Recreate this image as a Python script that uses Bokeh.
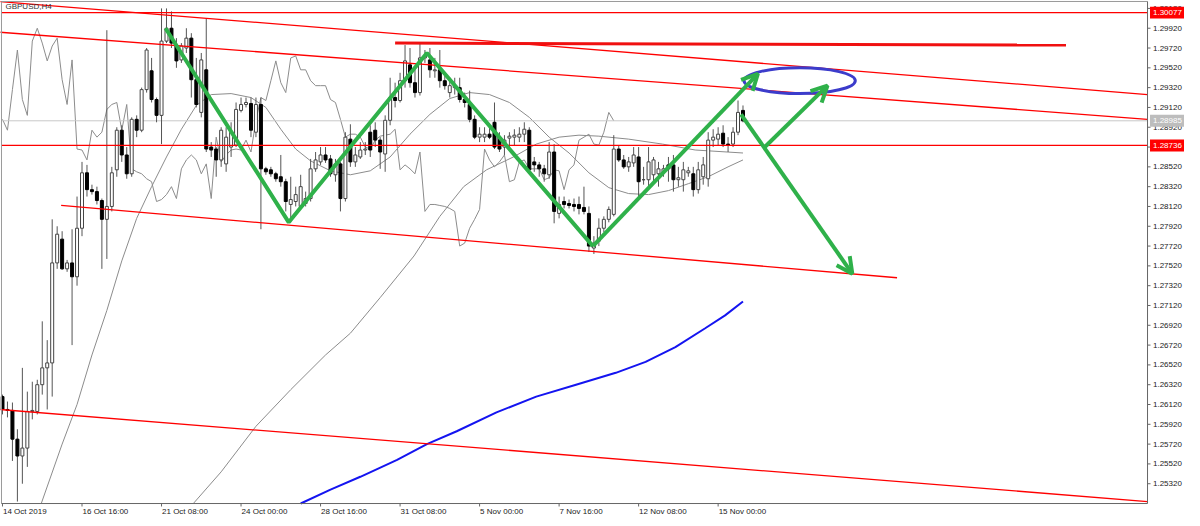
import numpy as np
from bokeh.plotting import figure
from bokeh.models import Range1d, Arrow, OpenHead
from bokeh.embed import file_html
from bokeh.resources import INLINE
from bokeh.core.properties import value

# ---------------- data (GBPUSD H4) ----------------
opens = [1.2620, 1.2607, 1.2606, 1.2577, 1.2560, 1.2568, 1.2605, 1.2605, 1.2632, 1.2649,
         1.2654, 1.2755, 1.2779, 1.2749, 1.2755, 1.2741, 1.2790, 1.2846, 1.2829, 1.2827,
         1.2818, 1.2799, 1.2812, 1.2849, 1.2889, 1.2864, 1.2845, 1.2900, 1.2889, 1.2930,
         1.2949, 1.2920, 1.2904, 1.2979, 1.2992, 1.2975, 1.2960, 1.2972, 1.2982, 1.2940,
         1.2907, 1.2950, 1.2872, 1.2870, 1.2859, 1.2855, 1.2872, 1.2874, 1.2909, 1.2915,
         1.2916, 1.2887, 1.2915, 1.2850, 1.2849, 1.2845, 1.2842, 1.2837, 1.2814, 1.2817,
         1.2812, 1.2815, 1.2820, 1.2850, 1.2857, 1.2864, 1.2860, 1.2844, 1.2855, 1.2820,
         1.2880, 1.2857, 1.2862, 1.2869, 1.2887, 1.2889, 1.2879, 1.2865, 1.2899, 1.2922,
         1.2919, 1.2939, 1.2955, 1.2937, 1.2927, 1.2962, 1.2960, 1.2949, 1.2950, 1.2939,
         1.2927, 1.2932, 1.2932, 1.2920, 1.2915, 1.2900, 1.2882, 1.2882, 1.2885, 1.2897,
         1.2882, 1.2872, 1.2881, 1.2882, 1.2882, 1.2885, 1.2889, 1.2857, 1.2854, 1.2850,
         1.2844, 1.2867, 1.2805, 1.2817, 1.2815, 1.2814, 1.2814, 1.2811, 1.2805, 1.2770,
         1.2777, 1.2790, 1.2799, 1.2804, 1.2870, 1.2859, 1.2852, 1.2856, 1.2862, 1.2839,
         1.2839, 1.2844, 1.2845, 1.2847, 1.2854, 1.2854, 1.2839, 1.2839, 1.2846, 1.2845,
         1.2829, 1.2842, 1.2840, 1.2879, 1.2880, 1.2886, 1.2875, 1.2875, 1.2887, 1.2909]
highs = [1.2622, 1.2615, 1.2614, 1.2587, 1.2649, 1.2625, 1.2635, 1.2637, 1.2696, 1.2677,
         1.2799, 1.2792, 1.2787, 1.2758, 1.2789, 1.2822, 1.2857, 1.2854, 1.2834, 1.2832,
         1.2820, 1.2990, 1.2852, 1.2892, 1.2894, 1.2872, 1.2902, 1.2904, 1.2932, 1.2972,
         1.2962, 1.2922, 1.3012, 1.3012, 1.3009, 1.2982, 1.2977, 1.2992, 1.2987, 1.2962,
         1.2967, 1.3002, 1.2877, 1.2872, 1.2892, 1.2892, 1.2897, 1.2917, 1.2922, 1.2922,
         1.2922, 1.2922, 1.2922, 1.2852, 1.2852, 1.2847, 1.2864, 1.2840, 1.2842, 1.2832,
         1.2844, 1.2827, 1.2860, 1.2867, 1.2872, 1.2872, 1.2864, 1.2860, 1.2857, 1.2887,
         1.2895, 1.2872, 1.2877, 1.2877, 1.2894, 1.2897, 1.2882, 1.2904, 1.2942, 1.2937,
         1.2947, 1.2975, 1.2972, 1.2952, 1.2977, 1.2970, 1.2972, 1.2962, 1.2970, 1.2947,
         1.2942, 1.2942, 1.2942, 1.2927, 1.2929, 1.2904, 1.2892, 1.2892, 1.2892, 1.2917,
         1.2887, 1.2884, 1.2887, 1.2890, 1.2892, 1.2897, 1.2892, 1.2862, 1.2857, 1.2854,
         1.2877, 1.2875, 1.2822, 1.2822, 1.2819, 1.2820, 1.2822, 1.2832, 1.2812, 1.2782,
         1.2800, 1.2802, 1.2812, 1.2884, 1.2874, 1.2864, 1.2862, 1.2872, 1.2872, 1.2852,
         1.2872, 1.2862, 1.2857, 1.2854, 1.2862, 1.2864, 1.2852, 1.2857, 1.2852, 1.2852,
         1.2857, 1.2862, 1.2887, 1.2890, 1.2892, 1.2894, 1.2882, 1.2892, 1.2919, 1.2914]
lows = [1.2602, 1.2599, 1.2555, 1.2514, 1.2532, 1.2549, 1.2597, 1.2602, 1.2622, 1.2607,
        1.2620, 1.2749, 1.2748, 1.2746, 1.2672, 1.2732, 1.2782, 1.2822, 1.2824, 1.2814,
        1.2749, 1.2759, 1.2807, 1.2842, 1.2857, 1.2840, 1.2842, 1.2882, 1.2887, 1.2927,
        1.2917, 1.2897, 1.2875, 1.2977, 1.2972, 1.2952, 1.2957, 1.2967, 1.2922, 1.2912,
        1.2902, 1.2867, 1.2862, 1.2842, 1.2852, 1.2847, 1.2862, 1.2872, 1.2907, 1.2912,
        1.2882, 1.2882, 1.2789, 1.2844, 1.2842, 1.2837, 1.2832, 1.2807, 1.2796, 1.2812,
        1.2810, 1.2812, 1.2817, 1.2847, 1.2854, 1.2856, 1.2842, 1.2837, 1.2807, 1.2817,
        1.2852, 1.2852, 1.2860, 1.2864, 1.2862, 1.2872, 1.2850, 1.2847, 1.2894, 1.2912,
        1.2917, 1.2932, 1.2932, 1.2922, 1.2924, 1.2957, 1.2942, 1.2942, 1.2932, 1.2930,
        1.2922, 1.2925, 1.2917, 1.2912, 1.2897, 1.2880, 1.2877, 1.2877, 1.2880, 1.2870,
        1.2867, 1.2864, 1.2872, 1.2874, 1.2877, 1.2877, 1.2847, 1.2847, 1.2842, 1.2837,
        1.2840, 1.2795, 1.2800, 1.2810, 1.2810, 1.2807, 1.2804, 1.2804, 1.2766, 1.2764,
        1.2772, 1.2786, 1.2796, 1.2802, 1.2857, 1.2850, 1.2847, 1.2852, 1.2822, 1.2834,
        1.2832, 1.2837, 1.2832, 1.2842, 1.2837, 1.2827, 1.2832, 1.2827, 1.2842, 1.2822,
        1.2825, 1.2834, 1.2832, 1.2872, 1.2874, 1.2872, 1.2867, 1.2872, 1.2884, 1.2897]
closes = [1.2607, 1.2606, 1.2577, 1.2560, 1.2568, 1.2605, 1.2606, 1.2632, 1.2649, 1.2654,
          1.2755, 1.2784, 1.2749, 1.2755, 1.2741, 1.2790, 1.2846, 1.2829, 1.2827, 1.2818,
          1.2799, 1.2812, 1.2846, 1.2889, 1.2864, 1.2845, 1.2900, 1.2889, 1.2930, 1.2970,
          1.2920, 1.2904, 1.2979, 1.2992, 1.2977, 1.2959, 1.2974, 1.2982, 1.2940, 1.2915,
          1.2960, 1.2870, 1.2869, 1.2859, 1.2889, 1.2882, 1.2887, 1.2910, 1.2915, 1.2917,
          1.2889, 1.2915, 1.2850, 1.2847, 1.2845, 1.2840, 1.2837, 1.2817, 1.2819, 1.2824,
          1.2832, 1.2820, 1.2850, 1.2859, 1.2864, 1.2859, 1.2845, 1.2855, 1.2820, 1.2882,
          1.2857, 1.2864, 1.2869, 1.2870, 1.2869, 1.2879, 1.2867, 1.2899, 1.2922, 1.2919,
          1.2939, 1.2959, 1.2937, 1.2927, 1.2962, 1.2964, 1.2950, 1.2950, 1.2939, 1.2934,
          1.2934, 1.2934, 1.2920, 1.2917, 1.2900, 1.2882, 1.2885, 1.2885, 1.2882, 1.2872,
          1.2870, 1.2879, 1.2883, 1.2884, 1.2885, 1.2890, 1.2849, 1.2854, 1.2850, 1.2845,
          1.2867, 1.2807, 1.2814, 1.2814, 1.2813, 1.2812, 1.2810, 1.2807, 1.2772, 1.2775,
          1.2790, 1.2799, 1.2809, 1.2870, 1.2859, 1.2852, 1.2857, 1.2864, 1.2837, 1.2839,
          1.2857, 1.2859, 1.2850, 1.2850, 1.2850, 1.2839, 1.2841, 1.2849, 1.2848, 1.2829,
          1.2849, 1.2854, 1.2879, 1.2882, 1.2885, 1.2875, 1.2874, 1.2887, 1.2907, 1.28985]

chikou_shift = 26

# moving averages (bar index, price)
ma_fast_x = [7.8, 12, 15, 18, 21, 24, 27, 30, 33, 36, 39, 42, 46, 50, 53, 56, 59, 62, 66, 70,
             74, 78, 82, 86, 90, 94, 98, 102, 106, 110, 114, 118, 122, 126, 130, 134, 138, 142, 146, 149]
ma_fast_y = [1.2512, 1.2572, 1.2612, 1.2662, 1.2707, 1.2757, 1.2800, 1.2832, 1.2862, 1.2890,
             1.2914, 1.2925, 1.2926, 1.2922, 1.2912, 1.2890, 1.2870, 1.2858, 1.2848, 1.2844,
             1.2848, 1.2862, 1.2885, 1.2905, 1.2921, 1.2927, 1.2925, 1.2917, 1.2902, 1.2882,
             1.2866, 1.2846, 1.2831, 1.2825, 1.2824, 1.2828, 1.2835, 1.2842, 1.2852, 1.2859]
ma_slow_x = [38.4, 44, 51, 58, 65, 70, 76, 82.8, 88, 92.8, 97.4, 102.8, 107.4, 112, 116, 120, 126, 132.8, 139.4, 149]
ma_slow_y = [1.2512, 1.2544, 1.2590, 1.2627, 1.2662, 1.2684, 1.2720, 1.2762, 1.2802, 1.2832,
             1.2849, 1.2862, 1.2875, 1.2882, 1.2884, 1.2883, 1.2880, 1.2875, 1.2869, 1.2866]
ma_long_x = [60, 66, 72, 79.4, 85.4, 91.4, 99.4, 107.4, 115.4, 123.4, 129.4, 135.4, 141.4, 145.4, 149]
ma_long_y = [1.2512, 1.2526, 1.2539, 1.2556, 1.2572, 1.2585, 1.2604, 1.2620, 1.2632, 1.2644,
             1.2655, 1.2670, 1.2689, 1.2702, 1.2716]

# drawn objects
hline_levels = [1.30077, 1.28736]
bid_price = 1.28985
channel_lines = [([-0.6, 230.4], [1.3019, 1.2925]),
                 ([-0.6, 230.4], [1.2988, 1.2900]),
                 ([11.8, 180.0], [1.2813, 1.2740]),
                 ([-0.6, 230.4], [1.2607, 1.2514])]
thick_x = [79.0, 214.0]
thick_y = [1.2977, 1.2975]
zig_x = [32.8, 57.6, 85.4, 118.8]
zig_y = [1.2992, 1.2796, 1.2967, 1.2772]
arrows = [(118.8, 1.2772, 152.0, 1.2946),
          (148.6, 1.2905, 171.0, 1.2744),
          (153.4, 1.2872, 166.0, 1.2934)]
ellipse_c = (160.4, 1.2939)
ellipse_wh = (22.4, 0.0026)

tick_idx = [0, 16, 32, 48, 64, 80, 96, 112, 128, 144]
tick_lbl = ["14 Oct 2019", "16 Oct 16:00", "21 Oct 08:00", "24 Oct 00:00", "28 Oct 16:00",
            "31 Oct 08:00", "5 Nov 00:00", "7 Nov 16:00", "12 Nov 08:00", "15 Nov 00:00"]
y_ticks = [1.2532, 1.2552, 1.2572, 1.2592, 1.2612, 1.2632, 1.2652, 1.2672, 1.2692, 1.2712,
           1.2732, 1.2752, 1.2772, 1.2792, 1.2812, 1.2832, 1.2852, 1.2872, 1.2892, 1.2912,
           1.2932, 1.2952, 1.2972, 1.2992, 1.3012]
price_boxes = [(1.30077, "1.30077", "#FF0000"), (1.28736, "1.28736", "#FF0000"),
               (bid_price, "1.28985", "#BDBDBD")]

# chart window (bar index / price of the chart borders)
X0, X1 = -0.2, 230.4
Y0, Y1 = 1.2512, 1.3019

# ---------------- figure ----------------
FONT = "Liberation Sans"
p = figure(frame_width=1184, frame_height=516, output_backend="svg", toolbar_location=None,
           x_range=Range1d(-0.401, 237.84), y_range=Range1d(1.24989, 1.30200),
           x_axis_location=None, y_axis_location=None, min_border=0)
p.background_fill_color = "white"
p.border_fill_color = "white"
p.outline_line_color = None
p.grid.visible = False

xs = np.arange(len(opens))
o = np.array(opens); c = np.array(closes)
up = c >= o
dn = ~up

# gray indicators
p.line(np.arange(chikou_shift, len(closes)) - chikou_shift, closes[chikou_shift:], line_color="#8c8c8c", line_width=1)
p.line(ma_fast_x, ma_fast_y, line_color="#8c8c8c", line_width=1)
p.line(ma_slow_x, ma_slow_y, line_color="#8c8c8c", line_width=1)
p.line(ma_long_x, ma_long_y, line_color="#1414F0", line_width=2)

# bid line
p.line([X0, X1], [bid_price, bid_price], line_color="#c8c8c8", line_width=1)

# candles
p.segment(xs, lows, xs, highs, line_color="#555555", line_width=1)
p.vbar(x=xs[up], bottom=o[up], top=c[up], width=0.6, fill_color="white", line_color="#444444", line_width=1)
p.vbar(x=xs[dn], bottom=c[dn], top=o[dn], width=0.6, fill_color="black", line_color="black", line_width=1)

# red objects
for lv in hline_levels:
    p.line([X0, X1], [lv, lv], line_color="#FF0000", line_width=1.2)
for lx, ly in channel_lines:
    p.line(lx, ly, line_color="#FF0000", line_width=1.3)
p.line(thick_x, thick_y, line_color="#F01010", line_width=3)

# green zigzag + arrows
GREEN = "#2FB14A"
p.line(zig_x, zig_y, line_color=GREEN, line_width=4)
for (x0, y0, x1, y1) in arrows:
    p.add_layout(Arrow(end=OpenHead(size=16, line_color=GREEN, line_width=4),
                       x_start=x0, y_start=y0, x_end=x1, y_end=y1,
                       line_color=GREEN, line_width=4))

# blue ellipse
p.ellipse(x=[ellipse_c[0]], y=[ellipse_c[1]], width=ellipse_wh[0], height=ellipse_wh[1],
          fill_color=None, line_color="#3C3CCB", line_width=3)

# chart borders / axis lines
p.line([X0, X0], [Y0, Y1], line_color="#9a9a9a", line_width=1)
p.line([X0, X1], [Y1, Y1], line_color="#9a9a9a", line_width=1)
p.line([X1, X1], [Y0, Y1], line_color="#666666", line_width=1)
p.line([X0, X1], [Y0, Y0], line_color="#666666", line_width=1)

# price axis (right)
p.segment(x0=[X1] * len(y_ticks), y0=y_ticks, x1=[X1 + 0.6] * len(y_ticks), y1=y_ticks,
          line_color="#666666", line_width=1)
p.text(x=[X1 + 1.1] * len(y_ticks), y=y_ticks, text=["%.5f" % t for t in y_ticks],
       text_font=value(FONT), text_font_size="8px", text_color="#222222",
       text_align="left", text_baseline="middle")

# time axis (bottom)
p.segment(x0=tick_idx, y0=[Y0] * len(tick_idx), x1=tick_idx, y1=[Y0 - 0.0003] * len(tick_idx),
          line_color="#666666", line_width=1)
p.text(x=[t + 0.1 for t in tick_idx], y=[Y0 - 0.00035] * len(tick_idx), text=tick_lbl,
       text_font=value(FONT), text_font_size="8px", text_color="#222222",
       text_align="left", text_baseline="top")

# price boxes on the axis
for lv, txt, bg in price_boxes:
    p.quad(left=[X1 + 0.5], right=[237.9], bottom=[lv - 0.0006], top=[lv + 0.0006],
           fill_color=bg, line_color=None)
    p.text(x=[X1 + 1.1], y=[lv], text=[txt], text_font=value(FONT), text_font_size="8px",
           text_color="white", text_align="left", text_baseline="middle")

# symbol caption
p.text(x=[0.6], y=[1.30182], text=["GBPUSD,H4"], text_font=value(FONT), text_font_size="8px",
       text_color="#333333", text_align="left", text_baseline="top")

open("out.html", "w").write(file_html(p, INLINE))
